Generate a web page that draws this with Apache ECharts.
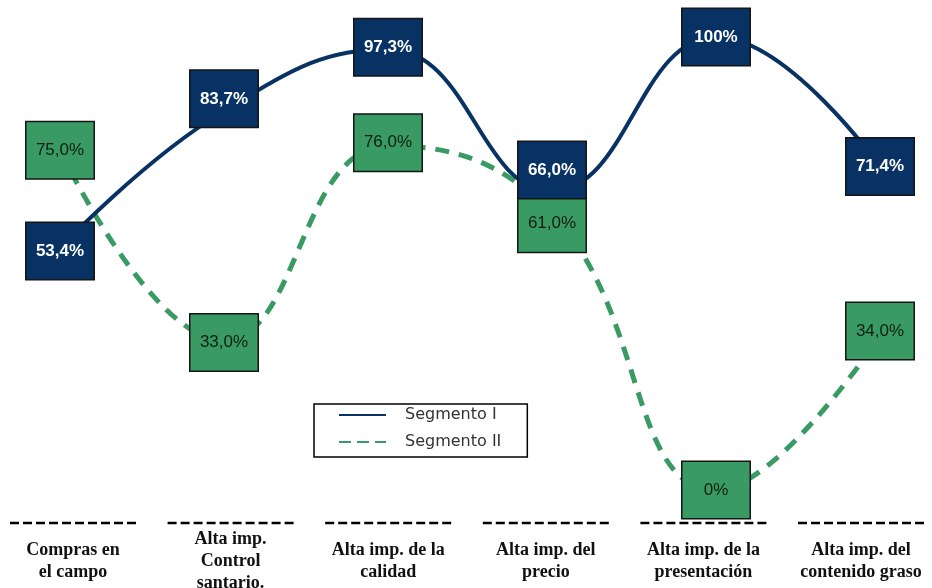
<!DOCTYPE html>
<html>
<head>
<meta charset="utf-8">
<script src="https://cdn.jsdelivr.net/npm/echarts@6/dist/echarts.min.js"></script>
<style>html,body{margin:0;padding:0;background:#fff;}#c{width:932px;height:588px;}</style>
</head>
<body>
<div id="c"></div>
<script>
var categories = ['Compras en\nel campo', 'Alta imp.\nControl\nsantario.', 'Alta imp. de la\ncalidad', 'Alta imp. del\nprecio', 'Alta imp. de la\npresentación', 'Alta imp. del\ncontenido graso'];
var segmento1 = [53.4, 83.7, 97.3, 66.0, 100, 71.4];
var segmento2 = [75.0, 33.0, 76.0, 61.0, 0, 34.0];
var seriesNames = ['Segmento I', 'Segmento II'];

// label box vertical nudges (pixels), as in the original to avoid overlap
var shift1 = [3, -12, -2, -21, 0, 0];
var shift2 = [0, 2, -3, 10, 0, -5];

function fmt(v) {
  if (v === 0 || v === 100) return v + '%';
  return v.toFixed(1).replace('.', ',') + '%';
}

var NAVY = '#083263';
var GREEN = '#3a9a64';

function buildData(vals, shifts) {
  return vals.map(function (v, i) {
    return { value: v, label: { offset: [0, shifts[i]] } };
  });
}

function boxLabel(bg, color, weight) {
  return {
    show: true, position: 'inside', formatter: function (p) { return fmt(p.value); },
    width: 67, height: 56, lineHeight: 56, align: 'center', verticalAlign: 'middle',
    backgroundColor: bg, borderColor: '#151515', borderWidth: 1.5,
    color: color, fontFamily: 'Liberation Sans', fontWeight: weight, fontSize: 17
  };
}

var chart = echarts.init(document.getElementById('c'), null, { renderer: 'canvas' });
chart.setOption({
  animation: false,
  backgroundColor: '#fff',
  grid: [
    { left: 60, right: 52, top: 37, bottom: 98, outerBoundsMode: 'none' },
    { left: 73, right: 71, top: 37, bottom: 98, outerBoundsMode: 'none' }
  ],
  legend: {
    orient: 'vertical',
    left: 314, top: 404,
    data: [
      { name: seriesNames[0] },
      { name: seriesNames[1], lineStyle: { type: [12, 6] } }
    ],
    backgroundColor: '#fff',
    borderColor: '#000', borderWidth: 1.5,
    padding: [3, 26, 7, 24],
    itemWidth: 47, itemHeight: 14, itemGap: 11,
    itemStyle: { opacity: 0 },
    textStyle: { fontFamily: 'DejaVu Sans', fontSize: 16, color: '#333', padding: [0, 0, 0, 14] }
  },
  xAxis: [
    {
      type: 'category', data: categories, boundaryGap: false, gridIndex: 0,
      axisLine: { show: false }, axisTick: { show: false }, splitLine: { show: false },
      axisLabel: { show: false }
    },
    {
      type: 'category', data: categories, boundaryGap: false, gridIndex: 1,
      axisLine: { show: false }, axisTick: { show: false }, splitLine: { show: false },
      axisLabel: {
        interval: 0, margin: 71, verticalAlign: 'middle',
        fontFamily: 'Liberation Serif', fontWeight: 'bold', fontSize: 18, lineHeight: 22, color: '#111'
      }
    }
  ],
  yAxis: [
    { type: 'value', min: 0, max: 100, show: false, gridIndex: 0 },
    { type: 'value', min: 0, max: 100, show: false, gridIndex: 1 }
  ],
  series: [
    {
      name: seriesNames[1], type: 'line', smooth: 0.45, symbol: 'circle', symbolSize: 0.1, z: 2,
      data: buildData(segmento2, shift2),
      lineStyle: { color: GREEN, width: 5, type: [14, 10] },
      itemStyle: { color: GREEN },
      label: boxLabel(GREEN, '#0d1f10', 'normal')
    },
    {
      name: seriesNames[0], type: 'line', smooth: 0.45, symbol: 'circle', symbolSize: 0.1, z: 3,
      data: buildData(segmento1, shift1),
      lineStyle: { color: NAVY, width: 4 },
      itemStyle: { color: NAVY },
      label: boxLabel(NAVY, '#fff', 'bold')
    }
  ]
});

// dashed separators above each category label
var graphics = categories.map(function (c, i) {
  var x = chart.convertToPixel({ xAxisIndex: 1 }, i);
  return {
    type: 'line', silent: true,
    shape: { x1: x - 63, y1: 523, x2: x + 63, y2: 523 },
    style: { stroke: '#000', lineWidth: 2.5, lineDash: [9, 4] }
  };
});
chart.setOption({ graphic: graphics });
</script>
</body>
</html>
